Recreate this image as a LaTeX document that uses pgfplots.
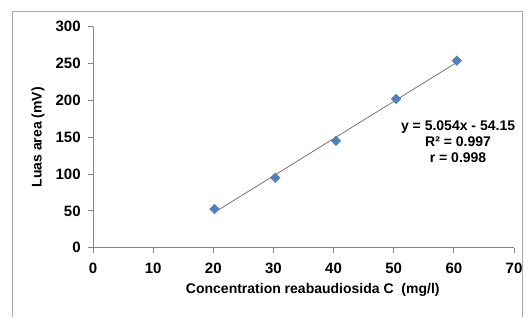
\documentclass[border=0pt]{standalone}
\usepackage{fontspec}
\setmainfont{Liberation Sans}
\usepackage{pgfplots}
\pgfplotsset{compat=1.18}
\definecolor{excelblue}{HTML}{4F81BD}
\definecolor{axgray}{HTML}{868686}
\begin{document}
\fontsize{14}{16}\selectfont\bfseries
\begin{tikzpicture}[x=1pt,y=1pt]
\useasboundingbox (-93,-69.3) rectangle (436,247.7);
\draw[axgray!70,line width=1pt] (-80.3,-69.3) -- (-80.3,236) -- (429,236) -- (429,-69.3);
\begin{axis}[
  at={(0,0)}, anchor=origin,
  scale only axis, width=421pt, height=221pt,
  xmin=0, xmax=70, ymin=0, ymax=300,
  xtick={0,10,...,70}, ytick={0,50,...,300},
  axis lines*=left,
  axis line style={axgray, line width=0.8pt},
  tick style={axgray, line width=0.8pt},
  tick align=outside,
  major tick length=5pt,
  /pgf/number format/assume math mode=true,
  tick label style={font=\fontsize{15}{17}\selectfont\bfseries},
  xticklabel style={yshift=-5pt},
  yticklabel style={xshift=-2.5pt},
  xlabel={Concentration reabaudiosida C\ \ (mg/l)},
  ylabel={Luas area (mV)},
  label style={font=\fontsize{14}{16}\selectfont\bfseries},
  xlabel style={at={(axis description cs:0.522,-0.191)}, anchor=center},
  ylabel style={at={(axis description cs:-0.1306,0.5)}, anchor=center},
  clip=false,
]
\addplot[color=black!60, line width=0.7pt] coordinates {(20.2,47.94) (60.5,251.62)};
\addplot[only marks, mark=square*, mark size=3.4pt, mark options={rotate=45, fill=excelblue, draw=excelblue}] coordinates {
(20.2,52.5) (30.3,95) (40.4,145) (50.4,202) (60.5,254)};
\node[align=center, font=\fontsize{14}{16}\selectfont\bfseries, inner sep=0pt] at (axis cs:60.7,144.5) {y = 5.054x - 54.15\\R² = 0.997\\r = 0.998};
\end{axis}
\end{tikzpicture}
\end{document}
